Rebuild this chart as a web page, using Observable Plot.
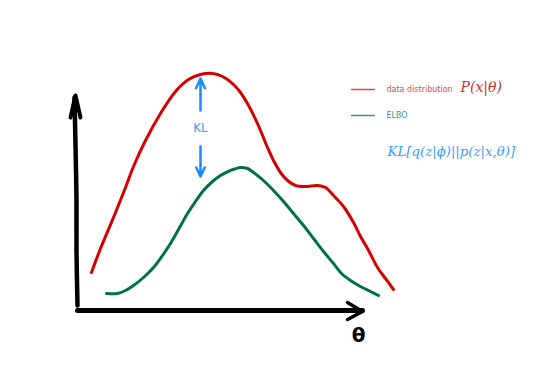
<!DOCTYPE html>
<html>
<head>
<meta charset="utf-8">
<script src="https://cdn.jsdelivr.net/npm/d3@7"></script>
<script src="https://cdn.jsdelivr.net/npm/@observablehq/plot@0.6"></script>
<style>
html,body{margin:0;padding:0;background:#fff;}
#chart svg{display:block;}
</style>
</head>
<body>
<div id="chart"></div>
<script>
// theta position (distance from vertical axis) and height above horizontal axis
const dataTheta = [14,23,36,48,56,68,83,98,111,123,135,145,156,163,170,180,190,196,203,210,218,228,240,248,256,266,276,283,290,300,308,316];
const dataValue = [38,62,93,123,144,170,197,219,231,236,237,234,226,218,207,187,163,150,138,130,125,124,125,123,115,104,88,74,62,43,32,21];

const elboTheta = [29,40,48,56,66,76,85,93,101,110,118,126,135,143,153,163,170,176,186,196,206,216,226,236,246,256,264,273,283,293,301];
const elboValue = [17,17,20,25,33,43,55,67,81,97,109,120,129,135,140,143,142,138,130,120,109,97,85,72,59,47,37,30,24,19,15];

// hand-drawn axes
const yAxisX = [0,-1,-1,-2,-3];
const yAxisY = [5,60,110,165,213];
const yHeadX = [-7,-2,3];
const yHeadY = [193,215,193];
const xAxisX = [0,100,200,285];
const xAxisY = [0,0,0,0];
const xHeadX = [270,285,270];
const xHeadY = [8,-1,-9];

// KL gap annotation
const klTheta = 123;
const klUp = [200,232];
const klDown = [164,134];
const klLabelY = 182;

// legend entries
const legendLabels = ["data distribution", "ELBO"];
const legendMath = ["P(x|θ)", ""];
const legendY = [221, 195];
const legendColors = ["#d84a4a", "#3f9678"];
const legendLineX = [274, 298];
const legendTextX = 309;
const mathX = 383;
const klFormula = "KL[q(z|ϕ)||p(z|x,θ)]";
const klFormulaPos = [310, 159];
const thetaLabel = "θ";
const thetaLabelPos = [281, -25];

const red = "#d40000";
const green = "#00704a";
const blue = "#1a8cff";

const data = dataTheta.map((x,i)=>({x, y:dataValue[i]}));
const elbo = elboTheta.map((x,i)=>({x, y:elboValue[i]}));
const yAxis = yAxisX.map((x,i)=>({x, y:yAxisY[i]}));
const yHead = yHeadX.map((x,i)=>({x, y:yHeadY[i]}));
const xAxis = xAxisX.map((x,i)=>({x, y:xAxisY[i]}));
const xHead = xHeadX.map((x,i)=>({x, y:xHeadY[i]}));
const legend = legendLabels.map((label,i)=>({label, math:legendMath[i], y:legendY[i], color:legendColors[i]}));

const chart = Plot.plot({
  width: 541,
  height: 387,
  margin: 0,
  x: {domain: [-77, 464], range: [0, 541], axis: null},
  y: {domain: [-77, 310], range: [387, 0], axis: null},
  marks: [
    Plot.line(yAxis, {x:"x", y:"y", stroke:"black", strokeWidth:4.5, curve:"catmull-rom"}),
    Plot.line(yHead, {x:"x", y:"y", stroke:"black", strokeWidth:4, strokeLinejoin:"round", strokeLinecap:"round"}),
    Plot.line(xAxis, {x:"x", y:"y", stroke:"black", strokeWidth:5}),
    Plot.line(xHead, {x:"x", y:"y", stroke:"black", strokeWidth:3.5, strokeLinejoin:"round", strokeLinecap:"round"}),
    Plot.line(data, {x:"x", y:"y", stroke:red, strokeWidth:3, curve:"catmull-rom"}),
    Plot.line(elbo, {x:"x", y:"y", stroke:green, strokeWidth:3, curve:"catmull-rom"}),
    Plot.arrow([{x1:klTheta, y1:klUp[0], x2:klTheta, y2:klUp[1]}, {x1:klTheta, y1:klDown[0], x2:klTheta, y2:klDown[1]}],
      {x1:"x1", y1:"y1", x2:"x2", y2:"y2", stroke:blue, strokeWidth:2.5, headLength:9, headAngle:50}),
    Plot.text(["KL"], {x:klTheta, y:klLabelY, text:d=>d, fill:"#3a9bff", fontSize:12, fontFamily:"DejaVu Sans"}),
    Plot.ruleY(legend, {x1:legendLineX[0], x2:legendLineX[1], y:"y", stroke:"color", strokeWidth:1.5}),
    Plot.text(legend, {x:legendTextX, y:"y", text:"label", fill:"color", textAnchor:"start", fontSize:8, fontFamily:"DejaVu Sans"}),
    Plot.text(legend, {x:mathX, y:d=>d.y+2, text:"math", fill:"#c83030", textAnchor:"start", fontSize:14, fontStyle:"italic", fontFamily:"DejaVu Serif"}),
    Plot.text([klFormula], {x:klFormulaPos[0], y:klFormulaPos[1], text:d=>d, fill:"#3a9bff", textAnchor:"start", fontSize:13.3, fontStyle:"italic", fontFamily:"DejaVu Serif"}),
    Plot.text([thetaLabel], {x:thetaLabelPos[0], y:thetaLabelPos[1], text:d=>d, fill:"black", fontSize:20, fontWeight:"bold", fontFamily:"DejaVu Sans"})
  ]
});
document.getElementById("chart").appendChild(chart);
</script>
</body>
</html>
